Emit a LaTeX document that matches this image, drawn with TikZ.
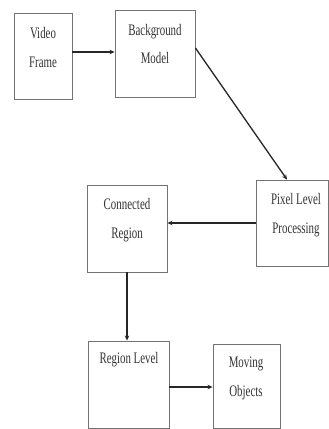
\documentclass[tikz,border=0pt]{standalone}
\usepackage{fontspec}
\setmainfont{Liberation Serif}
\usetikzlibrary{arrows.meta}
\newcommand{\tall}[1]{\scalebox{0.95}[1.4]{#1}}
\begin{document}
\begin{tikzpicture}[x=1bp,y=-1bp,
  box/.style={draw=black!55, line width=0.9bp, rectangle, inner sep=0pt},
  lbl/.style={font=\fontsize{11.5}{29}\selectfont, text=black!80, align=center, inner sep=0pt},
  arr/.style={draw=black!85, line width=1.6bp, -{Stealth[length=5bp,width=4.5bp]}}]
\useasboundingbox (0,0) rectangle (329,429);
\fill[white] (0,0) rectangle (329,429);
% boxes
\node[box, minimum width=58bp, minimum height=86bp] (vf) at (43,56) {};
\node[box, minimum width=80bp, minimum height=87bp] (bm) at (155,53.5) {};
\node[box, minimum width=72bp, minimum height=86bp] (pl) at (292,223) {};
\node[box, minimum width=80bp, minimum height=87bp] (cr) at (127,228.5) {};
\node[box, minimum width=81bp, minimum height=87bp] (rl) at (128.5,384.5) {};
\node[box, minimum width=67bp, minimum height=84bp] (mo) at (246.5,386) {};
% texts
\node[lbl] (tvf) at (43,47.5) {\tall{Video}\\\tall{Frame}};
\node[lbl] (tbm) at (155,44) {\tall{Background}\\\tall{Model}};
\node[lbl] (tpl) at (296,215) {\tall{Pixel Level}\\\tall{Processing}};
\node[lbl] (tcr) at (127,220) {\tall{Connected}\\\tall{Region}};
\node[lbl] (trl) at (129,360) {\tall{Region Level}};
\node[lbl] (tmo) at (246,378.5) {\tall{Moving}\\\tall{Objects}};
% connectors
\draw[arr] ([yshift=4bp]vf.east) -- ([yshift=4bp]vf.east -| bm.west);
\draw[arr, line width=1.3bp] ([yshift=5.5bp]bm.east) -- ([xshift=-5bp]pl.north);
\draw[arr] (pl.west) -- (pl.west -| cr.east);
\draw[arr, line width=1.3bp] (cr.south) -- (cr.south |- rl.north);
\draw[arr] ([yshift=-2.5bp]rl.east) -- ([yshift=-2.5bp]rl.east -| mo.west);
\end{tikzpicture}
\end{document}
